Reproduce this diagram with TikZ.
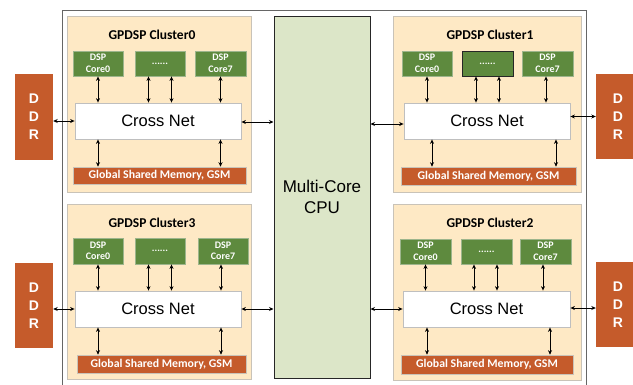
\documentclass[tikz,border=0pt]{standalone}
\usepackage{fontspec}
\setmainfont{Carlito}
\newfontfamily\arialf{Liberation Sans}
\usetikzlibrary{arrows.meta}
\definecolor{clfill}{HTML}{FEE9C5}
\definecolor{clline}{HTML}{C9C3B8}
\definecolor{coregreen}{HTML}{5E8A3E}
\definecolor{coreline}{HTML}{9DB58C}
\definecolor{rust}{HTML}{C55B2B}
\definecolor{cpufill}{HTML}{DCE6C8}
\tikzset{
  cluster/.style={draw=clline, line width=0.8pt, fill=clfill, inner sep=0pt},
  core/.style={draw=coreline, line width=0.8pt, fill=coregreen, text=white, font=\fontsize{10}{11.5}\selectfont\bfseries, align=center, inner sep=0pt},
  coredark/.style={core, draw=black!85},
  xnet/.style={draw=black!25, line width=0.8pt, fill=white, font=\arialf\fontsize{16.5}{18}\selectfont, inner sep=0pt},
  gsm/.style={draw=clline, line width=0.6pt, fill=rust, text=white, font=\fontsize{11.8}{13}\selectfont\bfseries, inner sep=0pt},
  ddr/.style={fill=rust, text=white, font=\arialf\fontsize{14}{18}\selectfont\bfseries, align=center, inner sep=0pt},
  cpu/.style={draw=black!85, line width=1pt, fill=cpufill, font=\arialf\fontsize{17}{21}\selectfont, align=center, inner sep=0pt},
  ttl/.style={font=\fontsize{13.5}{15}\selectfont\bfseries, inner sep=0pt},
  arr/.style={{Stealth[length=4.5pt,width=4pt]}-{Stealth[length=4.5pt,width=4pt]}, line width=0.9pt, black}
}
\newcommand\bx[7]{\node[#2, minimum width={(#5)-(#3)}, minimum height={(#6)-(#4)}] (#1) at ({((#3)+(#5))/2},{((#4)+(#6))/2}) {#7};}
\begin{document}
\begin{tikzpicture}[x=1pt,y=-1pt]
\useasboundingbox (0,0) rectangle (633,384);
% outer frame
\draw[black!60, line width=1pt] (62,390) -- (62,10) -- (586,10) -- (586,390);
% CPU
\bx{cpu}{cpu}{274}{16}{370}{378}{Multi-Core\\CPU}
% ---------- Cluster0 ----------
\bx{cl0}{cluster}{67}{16}{251}{192}{}
\node[ttl] (t0) at (152,35) {GPDSP Cluster0};
\bx{c0a}{core}{73}{51}{123}{76}{DSP\\Core0}
\bx{c0b}{core}{135}{51}{185}{76}{......}
\bx{c0c}{core}{195}{51}{246}{76}{DSP\\Core7}
\bx{x0}{xnet}{75}{103}{241}{139}{Cross Net}
\bx{g0}{gsm}{73}{167}{246}{184}{Global Shared Memory, GSM}
\bx{d0}{ddr}{15}{74}{53}{160}{D\\D\\R}
% ---------- Cluster1 ----------
\bx{cl1}{cluster}{393}{16}{581}{192}{}
\node[ttl] (t1) at (490,35) {GPDSP Cluster1};
\bx{c1a}{core}{402}{51}{452}{76}{DSP\\Core0}
\bx{c1b}{coredark}{462}{51}{513}{76}{......}
\bx{c1c}{core}{522}{51}{573}{76}{DSP\\Core7}
\bx{x1}{xnet}{404}{103}{570}{139}{Cross Net}
\bx{g1}{gsm}{401}{167}{576}{185}{Global Shared Memory, GSM}
\bx{d1}{ddr}{596}{74}{640}{159}{D\\D\\R}
% ---------- Cluster3 ----------
\bx{cl3}{cluster}{67}{204}{251}{379}{}
\node[ttl] (t3) at (152,223) {GPDSP Cluster3};
\bx{c3a}{core}{73}{238}{123}{264}{DSP\\Core0}
\bx{c3b}{core}{135}{238}{185}{264}{......}
\bx{c3c}{core}{198}{238}{248}{264}{DSP\\Core7}
\bx{x3}{xnet}{75}{291}{241}{327}{Cross Net}
\bx{g3}{gsm}{77}{355}{246}{373}{Global Shared Memory, GSM}
\bx{d3}{ddr}{15}{263}{53}{348}{D\\D\\R}
% ---------- Cluster2 ----------
\bx{cl2}{cluster}{393}{204}{581}{380}{}
\node[ttl] (t2) at (490,223) {GPDSP Cluster2};
\bx{c2a}{core}{400}{239}{451}{264}{DSP\\Core0}
\bx{c2b}{core}{461}{239}{512}{264}{......}
\bx{c2c}{core}{520}{239}{571}{264}{DSP\\Core7}
\bx{x2}{xnet}{403}{291}{570}{327}{Cross Net}
\bx{g2}{gsm}{401}{355}{573}{374}{Global Shared Memory, GSM}
\bx{d2}{ddr}{596}{262}{640}{347}{D\\D\\R}
% ---------- arrows cluster0 ----------
\draw[arr] (c0a.south) -- (c0a.south |- x0.north);
\draw[arr] ([xshift=-11.5pt]c0b.south) -- ([xshift=-11.5pt]c0b.south |- x0.north);
\draw[arr] ([xshift=11.5pt]c0b.south) -- ([xshift=11.5pt]c0b.south |- x0.north);
\draw[arr] (c0c.south) -- (c0c.south |- x0.north);
\draw[arr] (x0.south -| c0a.south) -- (g0.north -| c0a.south);
\draw[arr] (x0.south -| c0c.south) -- (g0.north -| c0c.south);
\draw[arr] (d0.east |- x0.west) -- (x0.west);
\draw[arr] ([yshift=-1pt]x0.east) -- ([yshift=-1pt]x0.east -| cpu.west);
% ---------- arrows cluster1 ----------
\draw[arr] (c1a.south) -- (c1a.south |- x1.north);
\draw[arr] ([xshift=-11.5pt]c1b.south) -- ([xshift=-11.5pt]c1b.south |- x1.north);
\draw[arr] ([xshift=11.5pt]c1b.south) -- ([xshift=11.5pt]c1b.south |- x1.north);
\draw[arr] ([xshift=-1.5pt]c1c.south) -- ([xshift=-1.5pt]c1c.south |- x1.north);
\draw[arr] ([xshift=-56.5pt]g1.north) -- ([xshift=-56.5pt]g1.north |- x1.south);
\draw[arr] ([xshift=67.5pt]g1.north) -- ([xshift=67.5pt]g1.north |- x1.south);
\draw[arr] (x1.east |- d1.west) -- (d1.west);
\draw[arr] ([yshift=-3pt]x1.west) -- ([yshift=-3pt]x1.west -| cpu.east);
% ---------- arrows cluster3 ----------
\draw[arr] (c3a.south) -- (c3a.south |- x3.north);
\draw[arr] ([xshift=-11.5pt]c3b.south) -- ([xshift=-11.5pt]c3b.south |- x3.north);
\draw[arr] ([xshift=11.5pt]c3b.south) -- ([xshift=11.5pt]c3b.south |- x3.north);
\draw[arr] ([xshift=-2pt]c3c.south) -- ([xshift=-2pt]c3c.south |- x3.north);
\draw[arr] (x3.south -| c3a.south) -- (g3.north -| c3a.south);
\draw[arr] ([xshift=-2pt]x3.south -| c3c.south) -- ([xshift=-2pt]g3.north -| c3c.south);
\draw[arr] (d3.east |- x3.west) -- (x3.west);
\draw[arr] (x3.east) -- (x3.east -| cpu.west);
% ---------- arrows cluster2 ----------
\draw[arr] (c2a.south) -- (c2a.south |- x2.north);
\draw[arr] ([xshift=-12.5pt]c2b.south) -- ([xshift=-12.5pt]c2b.south |- x2.north);
\draw[arr] ([xshift=10.5pt]c2b.south) -- ([xshift=10.5pt]c2b.south |- x2.north);
\draw[arr] ([xshift=-2.5pt]c2c.south) -- ([xshift=-2.5pt]c2c.south |- x2.north);
\draw[arr] ([xshift=-60pt]g2.north) -- ([xshift=-60pt]g2.north |- x2.south);
\draw[arr] ([xshift=63pt]g2.north) -- ([xshift=63pt]g2.north |- x2.south);
\draw[arr] ([yshift=1pt]x2.east) -- ([yshift=1pt]x2.east -| d2.west);
\draw[arr] (x2.west) -- (x2.west -| cpu.east);
\end{tikzpicture}
\end{document}
